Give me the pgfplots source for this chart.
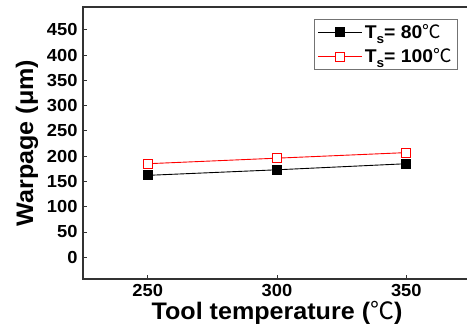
\documentclass[border=0pt]{standalone}
\usepackage{pgfplots}
\pgfplotsset{compat=1.18}
\usepackage{fontspec}
\setmainfont{Liberation Sans}[FakeStretch=1.05]
\newfontfamily\cjk{Noto Sans CJK KR}
\newcommand{\degC}{{\cjk\mdseries ℃}}
\newcommand{\Ts}{T\raisebox{-0.5ex}{\fontsize{13}{13}\selectfont s}}
\begin{document}
\begin{tikzpicture}
\begin{axis}[
  name=ax,
  scale only axis,
  width=388bp, height=272bp,
  xmin=225, xmax=375,
  ymin=-43, ymax=495,
  xtick={250,300,350},
  ytick={0,50,...,450},
  tick align=inside,
  xtick pos=left, ytick pos=left,
  major tick length=4bp,
  axis line style={line width=1.1pt, black!80},
  every tick/.style={black!80, line width=0.8pt},
  /pgf/number format/assume math mode=true,
  tick label style={font=\fontsize{17.5}{20}\selectfont\bfseries},
  xticklabel style={yshift=-2bp},
  yticklabel style={xshift=-2bp},
  xlabel={Tool temperature (\degC)},
  ylabel={Warpage (μm)},
  label style={font=\fontsize{24}{27}\selectfont\bfseries},
  xlabel style={yshift=2bp},
  ylabel style={yshift=2bp},
  legend style={
    at={(rel axis cs:0.9665,0.956)}, anchor=north east,
    draw=black!55, line width=0.8pt,
    font=\fontsize{18.5}{21}\selectfont\bfseries,
    row sep=5bp, inner xsep=4bp, inner ysep=3bp,
  },
  legend cell align=left,
  legend image code/.code={
    \draw[mark repeat=2, mark phase=2, #1]
      plot coordinates {(0bp,0bp) (22bp,0bp) (44bp,0bp)};
  },
]
\addplot[black, line width=0.9pt, mark=square*, mark size=4.5bp,
  mark options={fill=black, solid}]
  coordinates {(250,162) (300,173) (350,185)};
\addlegendentry{\Ts= 80\degC}
\addplot[red, line width=0.9pt, mark=square*, mark size=4.5bp,
  mark options={fill=white, draw=red, line width=1.2pt, solid}]
  coordinates {(250,185) (300,196) (350,207)};
\addlegendentry{\Ts= 100\degC}
\end{axis}
\pgfresetboundingbox
\useasboundingbox ([shift={(-83bp,-50bp)}]ax.south west)
  rectangle ([shift={(384bp,7bp)}]ax.north west);
\end{tikzpicture}
\end{document}
